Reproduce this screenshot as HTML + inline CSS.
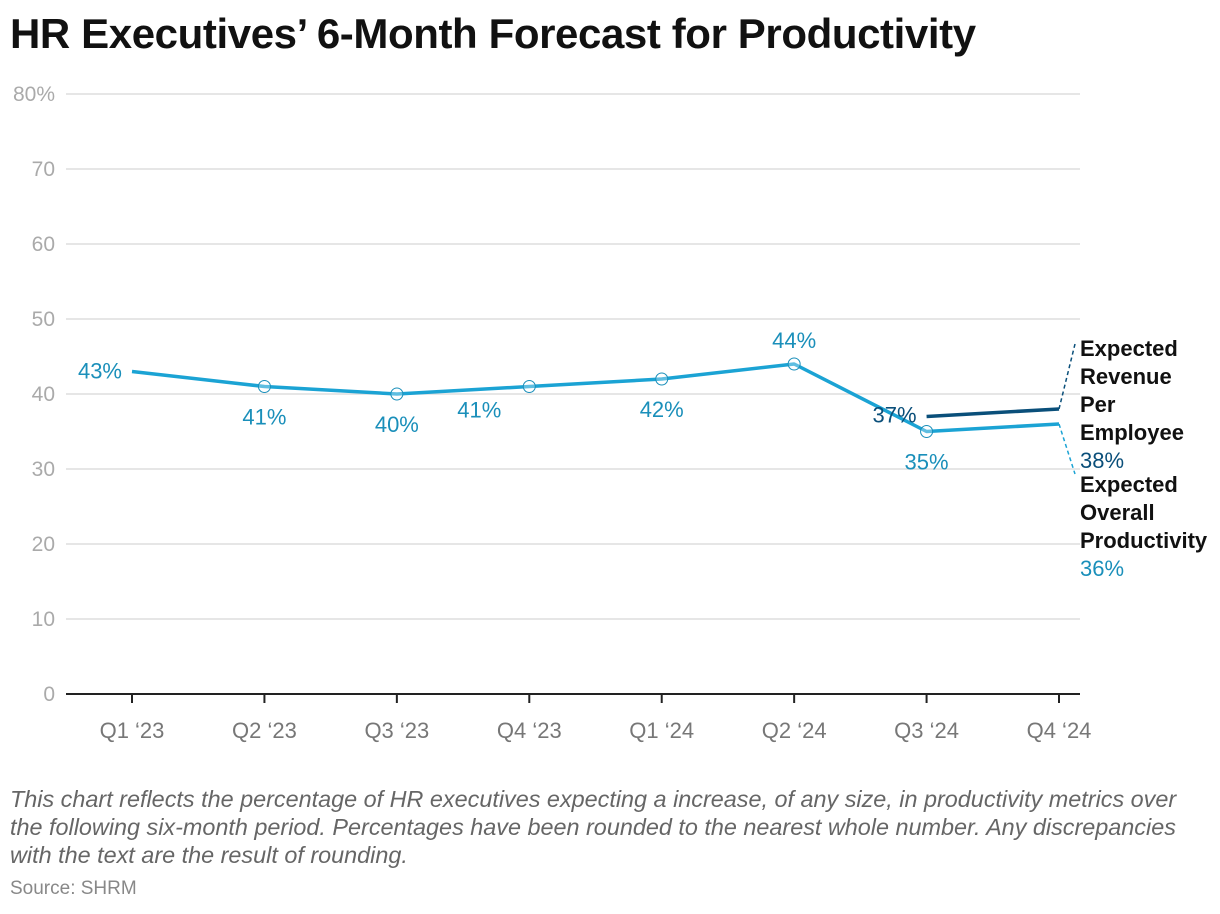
<!DOCTYPE html>
<html><head><meta charset="utf-8"><style>
body{margin:0;background:#fff;width:1220px;height:914px;overflow:hidden;font-family:"Liberation Sans",sans-serif}
h1{position:absolute;left:10px;top:10px;margin:0;font-size:42px;font-weight:bold;color:#111;letter-spacing:-0.4px}
.note{position:absolute;left:10px;top:785px;white-space:nowrap;font-size:23.4px;font-style:italic;color:#666;line-height:28px}
.src{position:absolute;left:10px;top:878px;font-size:19px;color:#888}
svg{position:absolute;left:0;top:0}
</style></head><body>
<h1>HR Executives’ 6-Month Forecast for Productivity</h1>
<svg id="c" width="1220" height="914"></svg>
<div class="note">This chart reflects the percentage of HR executives expecting a increase, of any size, in productivity metrics over<br>the following six-month period. Percentages have been rounded to the nearest whole number. Any discrepancies<br>with the text are the result of rounding.</div>
<div class="src">Source: SHRM</div>
<script>
const categories=["Q1 ‘23","Q2 ‘23","Q3 ‘23","Q4 ‘23","Q1 ‘24","Q2 ‘24","Q3 ‘24","Q4 ‘24"];
const overall=[43,41,40,41,42,44,35,36];
const revenue=[null,null,null,null,null,null,37,38];
const yTicks=[0,10,20,30,40,50,60,70,80];
const labelPlace=["left","below","below","belowleft","below","above","below","none"];
const NS="http://www.w3.org/2000/svg",svg=document.getElementById('c');
const x=i=>132+i*132.43, y=v=>694-v*7.5;
function mk(t,a,p){const e=document.createElementNS(NS,t);for(const k in a)e.setAttribute(k,a[k]);(p||svg).appendChild(e);return e;}
yTicks.forEach(t=>{
 if(t>0){const g=mk('line',{x1:66,x2:1080,y1:y(t),y2:y(t),stroke:'#ddd','stroke-width':1.5});
 
 }
 const l=mk('text',{x:55,y:y(t)+7,'text-anchor':'end','font-size':21,fill:'#aaa','font-family':'Liberation Sans'});
 l.textContent=t+(t===80?'%':'');
 
 
});
const ax=mk('line',{x1:66,x2:1080,y1:694,y2:694,stroke:'#222','stroke-width':2});


categories.forEach((c,i)=>{
 mk('line',{x1:x(i),x2:x(i),y1:694,y2:703,stroke:'#222','stroke-width':2});
 const l=mk('text',{x:x(i),y:738,'text-anchor':'middle','font-size':22,fill:'#777','font-family':'Liberation Sans'});
 l.textContent=c;
 
 
});
function path(vals){let d='';vals.forEach((v,i)=>{if(v==null)return;d+=(d?'L':'M')+x(i)+','+y(v);});return d;}
const lo=mk('path',{d:path(overall),fill:'none',stroke:'#1ba3d4','stroke-width':3.5,'stroke-linejoin':'round'});


const lr=mk('path',{d:path(revenue),fill:'none',stroke:'#0a4f7a','stroke-width':3.5});


overall.forEach((v,i)=>{
 if(i>0&&i<overall.length-1){const c=mk('circle',{cx:x(i),cy:y(v),r:6,fill:'#fff','fill-opacity':0.3,stroke:'#1a8fba','stroke-width':1});
 
 }
 const p=labelPlace[i];if(p==='none')return;
 let tx=x(i),ty=y(v),a='middle';
 if(p==='left'){tx-=10;ty+=7;a='end';}else if(p==='below'){ty+=38;}else if(p==='above'){ty-=16;}else{tx-=50;ty+=31;}
 const l=mk('text',{x:tx,y:ty,'text-anchor':a,'font-size':22,fill:'#1a8fba','font-family':'Liberation Sans'});
 l.textContent=v+'%';
 
 
});
const rl=mk('text',{x:x(6)-10,y:y(revenue[6])+6,'text-anchor':'end','font-size':22,fill:'#0a4f7a','font-family':'Liberation Sans'});
rl.textContent=revenue[6]+'%';


const last=overall.length-1;
mk('line',{x1:x(last),y1:y(revenue[last]),x2:1075,y2:y(revenue[last])-65,stroke:'#0a4f7a','stroke-width':1.5,'stroke-dasharray':'4,3'});
mk('line',{x1:x(last),y1:y(overall[last]),x2:1075,y2:y(overall[last])+50,stroke:'#1ba3d4','stroke-width':1.5,'stroke-dasharray':'4,3'});
function block(lines,val,col,top,name){
 lines.forEach((t,k)=>{const e=mk('text',{x:1080,y:top+k*28,'font-size':22,'font-weight':'bold',fill:'#111','font-family':'Liberation Sans'});e.textContent=t;
 
 });
 const e=mk('text',{x:1080,y:top+lines.length*28,'font-size':22,fill:col,'font-family':'Liberation Sans'});e.textContent=val+'%';
 
 
}
block(["Expected","Revenue","Per","Employee"],revenue[last],'#0a4f7a',356,'revenue');
block(["Expected","Overall","Productivity"],overall[last],'#1a8fba',492,'overall');
</script>
</body></html>
